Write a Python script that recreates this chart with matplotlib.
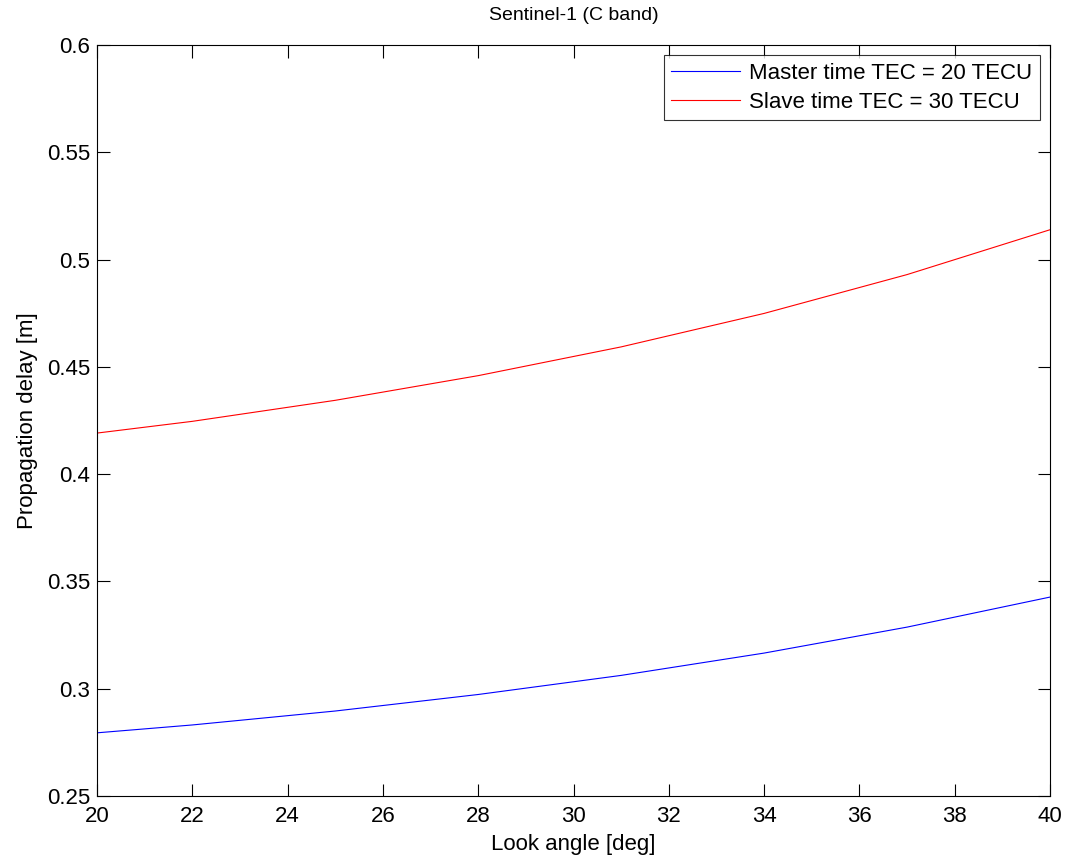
import matplotlib
matplotlib.use('Agg')
import matplotlib.pyplot as plt

# Look angle samples [deg] and propagation delay [m]
look_angle = [19, 22, 25, 28, 31, 34, 37, 40]
master_delay = [0.2776, 0.2831, 0.2896, 0.2973, 0.3062, 0.3166, 0.3287, 0.3427]
slave_delay = [0.4164, 0.4246, 0.4344, 0.4459, 0.4593, 0.4749, 0.4930, 0.5139]

x_ticks = list(range(20, 41, 2))
y_ticks = [0.25, 0.3, 0.35, 0.4, 0.45, 0.5, 0.55, 0.6]
y_tick_labels = ['0.25', '0.3', '0.35', '0.4', '0.45', '0.5', '0.55', '0.6']

plt.rcParams['font.family'] = ['Liberation Sans', 'DejaVu Sans']

fig = plt.figure(figsize=(10.66, 8.57), dpi=100)
ax = fig.add_axes([0.091, 0.0712, 0.894, 0.8763])

ax.plot(look_angle, master_delay, color='#0000ff', linewidth=0.8, label='Master time TEC = 20 TECU')
ax.plot(look_angle, slave_delay, color='#ff0000', linewidth=0.8, label='Slave time TEC = 30 TECU')

ax.set_xlim(20, 40)
ax.set_ylim(0.25, 0.6)
ax.set_xticks(x_ticks)
ax.set_xticklabels([str(t) for t in x_ticks])
ax.set_yticks(y_ticks)
ax.set_yticklabels(y_tick_labels)
ax.tick_params(direction='in', length=9, width=0.8, top=True, right=True, labelsize=16)
ax.tick_params(axis='x', pad=7)
ax.tick_params(axis='y', pad=5)
for spine in ax.spines.values():
    spine.set_linewidth(0.8)

ax.set_xlabel('Look angle [deg]', fontsize=16, labelpad=5)
ax.set_ylabel('Propagation delay [m]', fontsize=16, labelpad=6)
ax.set_title('Sentinel-1 (C band)', fontsize=14, pad=18)

leg = ax.legend(loc='upper right', fontsize=16, frameon=True, fancybox=False,
                edgecolor='black', handlelength=3.1, borderaxespad=0.45,
                labelspacing=0.35, handletextpad=0.4, borderpad=0.35)
leg.get_frame().set_linewidth(0.8)

fig.savefig('out.png', dpi=100)
